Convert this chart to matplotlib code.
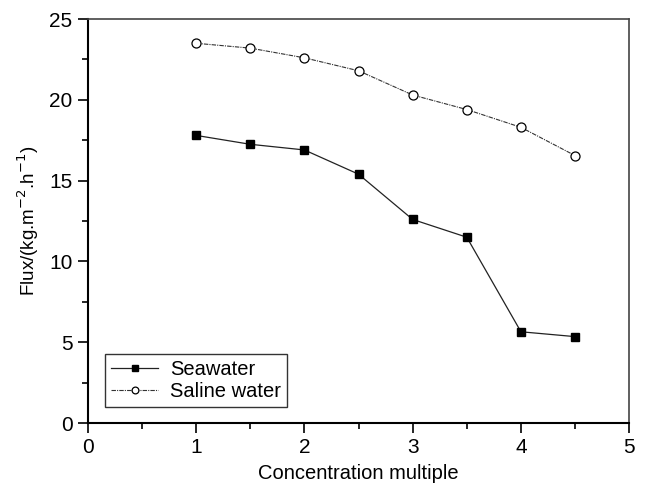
import numpy as np
import matplotlib.pyplot as plt
from matplotlib.ticker import MultipleLocator

plt.rcParams['font.family'] = ['Liberation Sans', 'DejaVu Sans']

conc = [1, 1.5, 2, 2.5, 3, 3.5, 4, 4.5]
seawater = [17.8, 17.25, 16.9, 15.4, 12.6, 11.5, 5.65, 5.35]
saline = [23.5, 23.2, 22.6, 21.8, 20.3, 19.4, 18.3, 16.55]

fig = plt.figure(figsize=(6.46, 4.88), dpi=100)
ax = fig.add_axes([0.136, 0.133, 0.838, 0.828])

ax.plot(conc, seawater, '-', color='#222222', lw=0.9, marker='s', ms=6,
        mfc='black', mec='black', label='Seawater')
ax.plot(conc, saline, linestyle=(0, (4, 1, 1, 1)), color='#333333', lw=0.8,
        marker='o', ms=6.5, mfc='white', mec='black', mew=0.9, label='Saline water')

ax.set_xlim(0, 5)
ax.set_ylim(0, 25)
ax.xaxis.set_major_locator(MultipleLocator(1))
ax.xaxis.set_minor_locator(MultipleLocator(0.5))
ax.yaxis.set_major_locator(MultipleLocator(5))
ax.yaxis.set_minor_locator(MultipleLocator(2.5))
ax.tick_params(which='both', direction='out', labelsize=15, width=1.2)
ax.tick_params(which='major', length=7, pad=4)
ax.tick_params(which='minor', length=4)
for s in ['left', 'bottom']:
    ax.spines[s].set_linewidth(1.5)
for s in ['top', 'right']:
    ax.spines[s].set_linewidth(1.2)
    ax.spines[s].set_color('#444444')

ax.set_xlabel('Concentration multiple', fontsize=14.5, labelpad=5)
ax.set_ylabel('Flux/(kg.m$^{-2}$.h$^{-1}$)', fontsize=13.5, labelpad=6)

leg = ax.legend(loc='lower left', bbox_to_anchor=(0.025, 0.03), fontsize=14.5,
                frameon=True, fancybox=False, edgecolor='black',
                handlelength=2.3, handletextpad=0.6, borderpad=0.3,
                labelspacing=0.15, markerscale=0.75, borderaxespad=0.2)
leg.get_frame().set_linewidth(1.0)

fig.savefig('out.png', dpi=100)
